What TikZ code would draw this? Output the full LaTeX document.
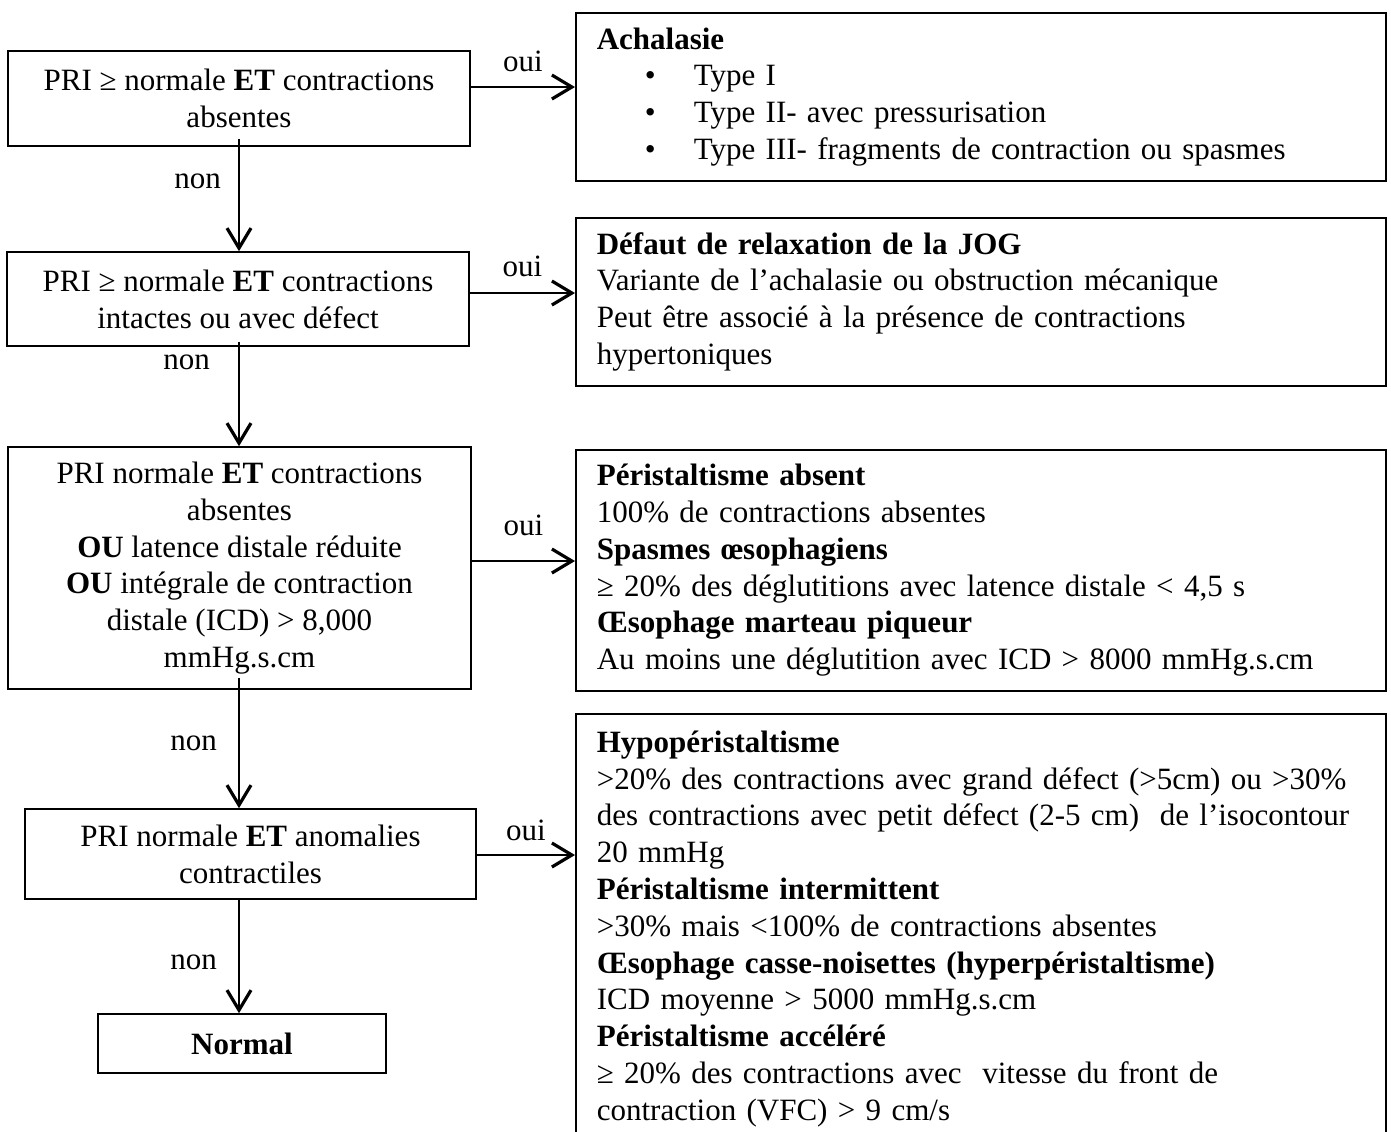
\documentclass[tikz,border=0pt]{standalone}
\usepackage{fontspec}
\setmainfont{Liberation Serif}
\usetikzlibrary{arrows.meta}

\begin{document}
\begin{tikzpicture}[x=0.5pt,y=-0.5pt,
  every node/.style={font=\fontsize{15.5}{18.4}\selectfont, inner sep=0pt},
  testbox/.style={draw, line width=0.8pt, align=center},
  diagbox/.style={draw, line width=0.8pt, anchor=north west, align=left, text width=384pt, inner xsep=10.5pt},
  arr/.style={line width=1.1pt, -{Straight Barb[length=10pt,width=12pt,line width=1.6pt]}}]
  \useasboundingbox (0,0) rectangle (1391,1131);

  \node[testbox, minimum width=231pt, minimum height=47.5pt] (b1) at (239,98.5)
    {PRI ≥ normale \textbf{ET} contractions\\ absentes};
  \node[testbox, minimum width=231pt, minimum height=47pt] (b2) at (238,299)
    {PRI ≥ normale \textbf{ET} contractions\\ intactes ou avec défect};
  \node[testbox, minimum width=231.5pt, minimum height=121pt] (b3) at (239.5,568)
    {PRI normale \textbf{ET} contractions\\ absentes\\ \textbf{OU} latence distale réduite\\
     \textbf{OU} intégrale de contraction\\ distale (ICD) > 8,000\\ mmHg.s.cm};
  \node[testbox, minimum width=225.5pt, minimum height=45pt] (b4) at (250.5,854)
    {PRI normale \textbf{ET} anomalies\\ contractiles};
  \node[testbox, minimum width=144pt, minimum height=29.5pt] (normal) at (242,1043.5)
    {\textbf{Normal}};

  \node[diagbox, minimum height=84pt] (ra) at (575,12)
    {\textbf{Achalasie}\\
     \makebox[48.5pt][l]{\hspace{24pt}•}Type I\\
     \makebox[48.5pt][l]{\hspace{24pt}•}Type II- avec pressurisation\\
     \makebox[48.5pt][l]{\hspace{24pt}•}Type III- fragments de contraction ou spasmes};
  \node[diagbox, minimum height=84pt] (rb) at (575,217)
    {\textbf{Défaut de relaxation de la JOG}\\
     Variante de l’achalasie ou obstruction mécanique\\
     Peut être associé à la présence de contractions\\
     hypertoniques};
  \node[diagbox, minimum height=120.5pt] (rc) at (575,449)
    {\textbf{Péristaltisme absent}\\
     100\% de contractions absentes\\
     \textbf{Spasmes œsophagiens}\\
     ≥ 20\% des déglutitions avec latence distale < 4,5 s\\
     \textbf{Œsophage marteau piqueur}\\
     Au moins une déglutition avec ICD > 8000 mmHg.s.cm};
  \node[diagbox, minimum height=215pt] (rd) at (575,713)
    {\textbf{Hypopéristaltisme}\\
     >20\% des contractions avec grand défect (>5cm) ou >30\%\\
     des contractions avec petit défect (2-5 cm)~ de l’isocontour\\
     20 mmHg\\
     \textbf{Péristaltisme intermittent}\\
     >30\% mais <100\% de contractions absentes\\
     \textbf{Œsophage casse-noisettes (hyperpéristaltisme)}\\
     ICD moyenne > 5000 mmHg.s.cm\\
     \textbf{Péristaltisme accéléré}\\
     ≥ 20\% des contractions avec~ vitesse du front de\\
     contraction (VFC) > 9 cm/s};

  \draw[arr] ([yshift=5.75pt]b1.east) -- ([yshift=5.75pt]b1.east -| ra.west)
    node[midway, above=7pt] {oui};
  \draw[arr] ([yshift=3pt]b2.east) -- ([yshift=3pt]b2.east -| rb.west)
    node[midway, above=7.5pt] {oui};
  \draw[arr] ([yshift=3.5pt]b3.east) -- ([yshift=3.5pt]b3.east -| rc.west)
    node[midway, above=12pt] {oui};
  \draw[arr] ([yshift=-0.5pt]b4.east) -- ([yshift=-0.5pt]b4.east -| rd.west)
    node[midway, above=6.5pt] {oui};

  \draw[arr] ([yshift=4pt]b1.south) -- (b2.north -| b1) node[pos=.38, left=8.5pt] {non};
  \draw[arr] ([yshift=2.5pt]b2.south -| b1) -- (b3.north -| b1) node[pos=.2, left=14pt] {non};
  \draw[arr] ([yshift=6pt]b3.south -| b1) -- (b4.north -| b1) node[pos=.5, left=10.5pt] {non};
  \draw[arr] (b4.south -| b1) -- (normal.north -| b1) node[pos=.55, left=10.5pt] {non};
\end{tikzpicture}
\end{document}
